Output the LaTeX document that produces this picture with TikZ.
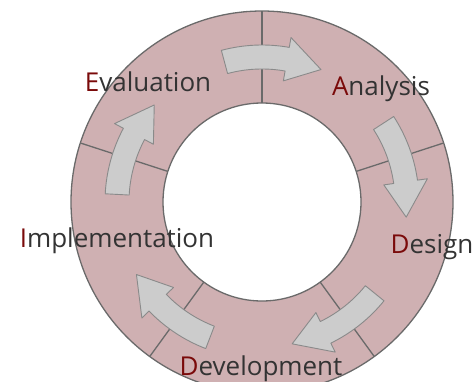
\documentclass[tikz,border=0pt]{standalone}
\usepackage{fontspec}
\setmainfont{Open Sans}
\usepackage{tikz}

\definecolor{ringfill}{HTML}{CFB0B2}
\definecolor{ringline}{HTML}{6A6A6A}
\definecolor{arrowfill}{HTML}{CCCCCC}
\definecolor{arrowline}{HTML}{8A8A8A}
\definecolor{initial}{HTML}{7A0A0A}
\definecolor{phasetext}{HTML}{333333}

% curved block arrow: tail angle #1, tip angle #2
\newcommand{\cyclearrow}[2]{%
  \pgfmathsetmacro{\headbase}{#2+14}%
  \draw[arrowshape] (#1:133) arc[start angle=#1, end angle=\headbase, radius=133]
    -- (\headbase:123) -- (#2:145) -- (\headbase:167) -- (\headbase:157)
    arc[start angle=\headbase, end angle=#1, radius=157] -- cycle;}

\begin{document}
\begin{tikzpicture}[
    x=1pt, y=1pt,
    ring/.style={draw=ringline, line width=1.3pt, fill=ringfill, even odd rule},
    divider/.style={draw=ringline, line width=1.3pt},
    arrowshape/.style={draw=arrowline, line width=0.9pt, fill=arrowfill, line join=round},
    phase/.style={anchor=base, text=phasetext, font=\fontsize{26}{30}\selectfont, inner sep=0pt},
]
\clip (-262,-179) rectangle (211,202);

\path[ring] (0,0) circle[radius=191] (0,0) circle[radius=99];

\draw[divider] (90:99) -- (90:191);
\draw[divider] (18:99) -- (18:191);
\draw[divider] (-54:99) -- (-54:191);
\draw[divider] (-126:99) -- (-126:191);
\draw[divider] (162:99) -- (162:191);

\cyclearrow{105}{66}
\cyclearrow{33}{-6}
\cyclearrow{-39}{-78}
\cyclearrow{-111}{-150}
\cyclearrow{177}{138}

\node[phase] (evaluation) at (-114,111) {\textcolor{initial}{E}valuation};
\node[phase] (analysis) at (119,107) {\textcolor{initial}{A}nalysis};
\node[phase] (design) at (170,-51) {\textcolor{initial}{D}esign};
\node[phase] (development) at (-1,-173) {\textcolor{initial}{D}evelopment};
\node[phase] (implementation) at (-145,-45) {\textcolor{initial}{I}mplementation};
\end{tikzpicture}
\end{document}
